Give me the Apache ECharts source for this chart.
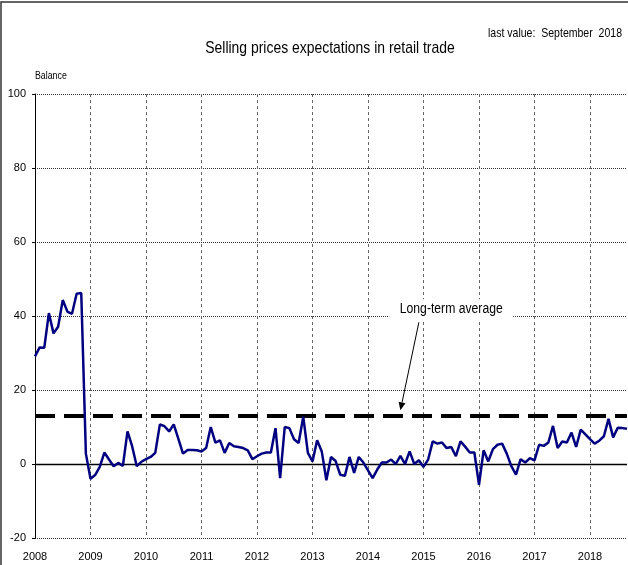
<!DOCTYPE html>
<html>
<head>
<meta charset="utf-8">
<script src="https://cdn.jsdelivr.net/npm/echarts@6/dist/echarts.min.js"></script>
<style>
html,body{margin:0;padding:0;background:#fff;}
#chart{width:628px;height:565px;}
</style>
</head>
<body>
<div id="chart"></div>
<script>
var years = ['2008','2009','2010','2011','2012','2013','2014','2015','2016','2017','2018'];
var v2008 = [29.1, 31.5, 31.4, 40.8, 35.3, 37.1, 44.3, 41.2, 40.6, 46.0, 46.2, 2.8];
var v2009 = [-4.0, -3.0, -0.8, 3.1, 1.2, -0.6, 0.3, -0.5, 8.8, 4.8, -0.6, 0.6];
var v2010 = [1.3, 1.9, 3.0, 10.7, 10.2, 8.8, 10.7, 6.8, 2.8, 3.8, 3.8, 3.7];
var v2011 = [3.4, 4.3, 10.0, 5.8, 6.4, 3.0, 5.7, 4.8, 4.6, 4.3, 3.7, 1.3];
var v2012 = [2.1, 2.8, 3.1, 3.1, 9.7, -3.8, 10.0, 9.7, 6.7, 5.7, 12.8, 3.0];
var v2013 = [0.7, 6.4, 3.4, -4.4, 1.9, 0.8, -2.9, -3.2, 1.9, -2.4, 1.9, 0.4];
var v2014 = [-1.7, -3.8, -1.5, 0.4, 0.4, 1.2, 0.0, 2.2, 0.0, 3.4, 0.0, 1.0];
var v2015 = [-0.8, 1.2, 6.1, 5.5, 5.8, 4.3, 4.6, 2.1, 6.1, 4.7, 3.1, 3.1];
var v2016 = [-5.6, 3.7, 0.7, 4.0, 5.2, 5.5, 2.8, -0.6, -2.9, 1.3, 0.4, 1.6];
var v2017 = [1.0, 5.2, 4.9, 5.8, 10.3, 4.3, 6.1, 5.8, 8.5, 4.6, 9.3, 8.0];
var v2018 = [6.7, 5.5, 6.3, 7.5, 12.2, 7.2, 9.8, 9.7, 9.5];
var longTermAverage = 13;
var yTicks = [-20, 0, 20, 40, 60, 80, 100];

var yearly = [v2008,v2009,v2010,v2011,v2012,v2013,v2014,v2015,v2016,v2017,v2018];
var categories = [];
var values = [];
yearly.forEach(function(arr, yi){
  arr.forEach(function(v, mi){
    categories.push(years[yi] + '-' + (mi < 9 ? '0' : '') + (mi + 1));
    values.push(v);
  });
});

var FONT = "'Liberation Sans', Arial, sans-serif";
var chart = echarts.init(document.getElementById('chart'), null, {renderer:'canvas'});
var option = {
  animation: false,
  backgroundColor: '#fff',
  grid: {left: 35, right: 1, top: 94, bottom: 27, containLabel: false},
  xAxis: {
    type: 'category',
    data: categories,
    boundaryGap: false,
    axisLine: {show: false},
    axisTick: {show: false},
    axisLabel: {
      interval: function(i){ return i % 12 === 0; },
      formatter: function(v){ return v.slice(0,4); },
      color: '#000', fontFamily: FONT, fontSize: 11, margin: 13
    },
    splitLine: {
      show: true,
      interval: function(i){ return i % 12 === 0 && i > 0; },
      lineStyle: {color: '#666', type: [3,3], width: 1}
    }
  },
  yAxis: {
    type: 'value',
    min: yTicks[0], max: yTicks[yTicks.length-1], interval: 20,
    axisLine: {show: true, lineStyle: {color: '#000', width: 1}},
    axisTick: {show: true, inside: false, length: 3, lineStyle: {color:'#000'}},
    axisLabel: {color: '#000', fontFamily: FONT, fontSize: 11, margin: 9},
    splitLine: {show: true, lineStyle: {color: '#333', type: [1,1], width: 1}}
  },
  series: [
    {
      type: 'line',
      data: values,
      symbol: 'none',
      lineStyle: {color: '#000080', width: 2.5},
      z: 5,
      markLine: {
        silent: true,
        symbol: 'none',
        label: {show: false},
        animation: false,
        data: [
          {yAxis: 0, lineStyle: {color: '#000', type: 'solid', width: 1.3}},
          {yAxis: longTermAverage, lineStyle: {color: '#000', type: [20, 9], width: 4}}
        ]
      }
    }
  ]
};
chart.setOption(option);

// annotation placed through the axes' scales
var tp = chart.convertToPixel({gridIndex:0}, [89.5, 41.8]);
var a1 = chart.convertToPixel({gridIndex:0}, [83.3, 38.3]);
var a2 = chart.convertToPixel({gridIndex:0}, [78.5, 14.5]);
var ang = Math.atan2(a2[1]-a1[1], a2[0]-a1[0]);
var hl = 8, hw = 3.5;
var bx = a2[0] - hl*Math.cos(ang), by = a2[1] - hl*Math.sin(ang);
var px = -Math.sin(ang), py = Math.cos(ang);
chart.setOption({
  graphic: [
    {type:'rect', shape:{x:1, y:2, width:700, height:700}, style:{fill:'none', stroke:'#333', lineWidth:1.5}, z:0, silent:true},
    {type:'text', x: 330, y: 48, scaleX: 0.82, style:{text:'Selling prices expectations in retail trade', font: '17px ' + FONT, fill:'#000', textAlign:'center', textVerticalAlign:'middle'}, z:51},
    {type:'text', x: 622, y: 33, scaleX: 0.81, style:{text:'last value:  September  2018', font: '13px ' + FONT, fill:'#000', textAlign:'right', textVerticalAlign:'middle'}, z:51},
    {type:'text', x: 35, y: 76, scaleX: 0.8, style:{text:'Balance', font: '11px ' + FONT, fill:'#000', textAlign:'left', textVerticalAlign:'middle'}, z:51},
    {type:'rect', shape:{x: tp[0]-62, y: tp[1]-10, width:124, height:20}, style:{fill:'#fff'}, z:50},
    {type:'text', x: tp[0], y: tp[1], scaleX: 0.87, style:{text:'Long-term average', font: '14px ' + FONT, fill:'#000', textAlign:'center', textVerticalAlign:'middle'}, z:51},
    {type:'line', shape:{x1:a1[0], y1:a1[1], x2:bx, y2:by}, style:{stroke:'#000', lineWidth:1}, z:51},
    {type:'polygon', shape:{points:[[a2[0],a2[1]],[bx+px*hw, by+py*hw],[bx-px*hw, by-py*hw]]}, style:{fill:'#000'}, z:51}
  ]
});
</script>
</body>
</html>
